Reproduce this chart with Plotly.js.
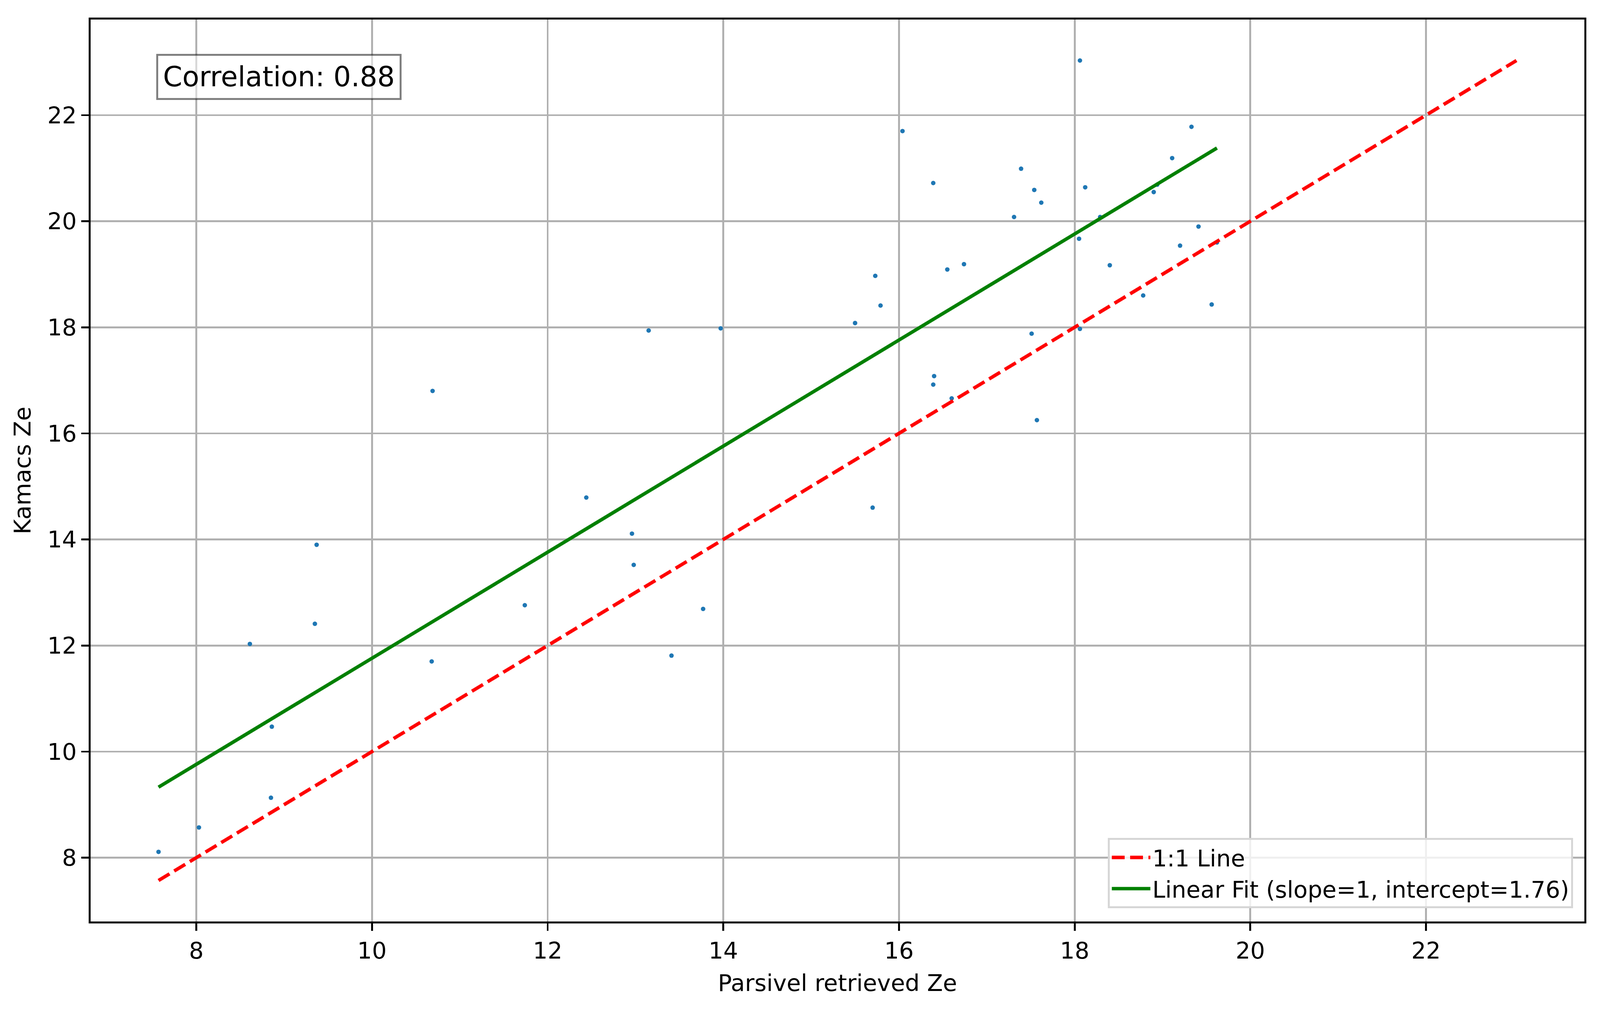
<!DOCTYPE html>
<html>
<head>
<meta charset="utf-8">
<script src="https://cdn.plot.ly/plotly-3.0.1.min.js"></script>
<style>
  html, body { margin: 0; padding: 0; background: #fff; overflow: hidden; }
</style>
</head>
<body>
<div id="plot"></div>
<script>
// values
const parsivelZe = [
    7.57, 8.03, 8.61, 8.85, 8.86, 9.35, 9.37, 10.68, 10.69, 11.74,
    12.44, 12.96, 12.98, 13.15, 13.41, 13.77, 13.97, 15.50, 15.70, 15.73,
    15.79, 16.04, 16.39, 16.39, 16.40, 16.55, 16.60, 16.74, 17.31, 17.39,
    17.51, 17.54, 17.57, 17.62, 18.05, 18.06, 18.06, 18.12, 18.29, 18.40,
    18.78, 18.90, 18.94, 19.11, 19.20, 19.33, 19.41, 19.56, 19.62
];
const kamacsZe = [
    8.11, 8.57, 12.03, 9.13, 10.47, 12.41, 13.90, 11.70, 16.80, 12.76,
    14.79, 14.11, 13.52, 17.94, 11.81, 12.69, 17.98, 18.08, 14.60, 18.97,
    18.41, 21.70, 20.72, 16.92, 17.08, 19.09, 16.66, 19.19, 20.08, 20.99,
    17.88, 20.59, 16.25, 20.35, 19.67, 23.03, 17.97, 20.64, 20.08, 19.17,
    18.60, 20.55, 20.69, 21.19, 19.54, 21.78, 19.90, 18.43, 19.60
];
const fitSlope = 1.0;
const fitIntercept = 1.76;
const correlation = 0.88;
const tickValues = [8, 10, 12, 14, 16, 18, 20, 22];

// laid out for 4981x2620, stretched to whatever the viewport really is
const W = 4981, H = 2620;
const SX = window.innerWidth / W;
const SY = window.innerHeight / H;
const px = v => v * SX;   // sizes, fonts, horizontal offsets
const py = v => v * SY;   // vertical offsets

const lo = Math.min(Math.min(...parsivelZe), Math.min(...kamacsZe));
const hi = Math.max(Math.max(...parsivelZe), Math.max(...kamacsZe));
const pad = (hi - lo) * 0.05;

const xMin = Math.min(...parsivelZe);
const xMax = Math.max(...parsivelZe);

const font = 'DejaVu Sans, sans-serif';
const PT = 7.2; // px per point in the reference

const traces = [
    {
        x: parsivelZe,
        y: kamacsZe,
        type: 'scatter',
        mode: 'markers',
        marker: { color: '#1f77b4', size: px(14), line: { width: 0 } },
        showlegend: false,
        hoverinfo: 'skip'
    },
    {
        x: [lo, hi],
        y: [lo, hi],
        type: 'scatter',
        mode: 'lines',
        name: '1:1 Line',
        line: { color: '#ff0000', width: px(1.5 * PT), dash: px(40) + 'px,' + px(17) + 'px' },
        hoverinfo: 'skip'
    },
    {
        x: [xMin, xMax],
        y: [fitSlope * xMin + fitIntercept, fitSlope * xMax + fitIntercept],
        type: 'scatter',
        mode: 'lines',
        name: 'Linear Fit (slope=' + fitSlope.toFixed(0) + ', intercept=' + fitIntercept.toFixed(2) + ')',
        line: { color: '#008000', width: px(1.5 * PT) },
        hoverinfo: 'skip'
    }
];

const axisCommon = {
    range: [lo - pad, hi + pad],
    tickvals: tickValues,
    ticks: 'outside',
    ticklen: px(23),
    tickwidth: px(5.8),
    tickcolor: '#000',
    showline: true,
    linecolor: '#000',
    linewidth: px(5.8),
    mirror: true,
    showgrid: true,
    gridcolor: '#b0b0b0',
    gridwidth: px(5.8),
    zeroline: false,
    tickfont: { family: font, size: px(72), color: '#000' },
    automargin: false
};

const layout = {
    width: window.innerWidth,
    height: window.innerHeight,
    margin: { l: px(282), r: px(49), t: py(50), b: py(260) },
    paper_bgcolor: '#fff',
    plot_bgcolor: '#fff',
    font: { family: font, color: '#000' },
    xaxis: Object.assign({}, axisCommon, {
        title: { text: 'Parsivel retrieved Ze', font: { family: font, size: px(72), color: '#000' }, standoff: py(30) }
    }),
    yaxis: Object.assign({}, axisCommon, {
        title: { text: 'Kamacs Ze', font: { family: font, size: px(72), color: '#000' }, standoff: px(30) }
    }),
    legend: {
        x: 0.9925,
        y: 0.0147,
        xanchor: 'right',
        yanchor: 'bottom',
        bgcolor: 'rgba(255,255,255,0.8)',
        bordercolor: '#d6d6d6',
        borderwidth: px(6),
        font: { family: font, size: px(72), color: '#000' },
        itemwidth: Math.max(30, px(120)),
        tracegroupgap: 0
    },
    annotations: [
        {
            xref: 'paper',
            yref: 'paper',
            x: 0.0439,
            y: 0.9619,
            xanchor: 'left',
            yanchor: 'top',
            showarrow: false,
            text: 'Correlation: ' + correlation.toFixed(2),
            font: { family: font, size: px(86), color: '#000' },
            bgcolor: 'rgba(255,255,255,0.5)',
            bordercolor: 'rgba(0,0,0,0.5)',
            borderwidth: px(6),
            borderpad: px(15)
        }
    ]
};

Plotly.newPlot('plot', traces, layout, { displayModeBar: false, staticPlot: true });
</script>
</body>
</html>
